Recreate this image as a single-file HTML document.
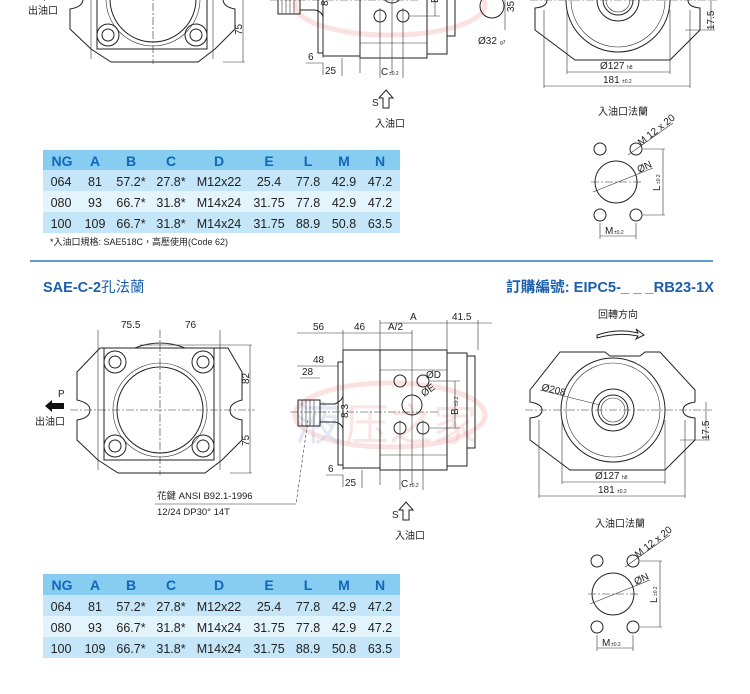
<!DOCTYPE html>
<html><head><meta charset="utf-8">
<style>
html,body{margin:0;padding:0;background:#fff;}
svg{display:block;font-family:"Liberation Sans","Noto Sans CJK TC",sans-serif;}
.l{stroke:#222;stroke-width:1;fill:none}
.t{stroke:#333;stroke-width:.6;fill:none}
.d{stroke:#333;stroke-width:.6;fill:none;stroke-dasharray:8 2 2 2}
.tx{font-size:10px;fill:#222}
.sm{font-size:5px;fill:#222}
.th{font-size:14px;font-weight:bold;fill:#1565b8}
.td{font-size:12.5px;fill:#222}
</style></head><body>
<svg width="750" height="694" viewBox="0 0 750 694" xmlns="http://www.w3.org/2000/svg">
<defs>
<g id="front">
 <path class="l" d="M77 372 L100 348 L135 348 Q160 338 185 348 L228 348 L242 372 L242 400 Q230 403 230 410 Q230 418 242 420 L242 440 L222 460 L205 473 L118 473 L98 460 L77 440 L77 420 Q90 418 90 410 Q90 403 77 400 Z"/>
 <rect class="l" x="104" y="348" width="110" height="112"/>
 <circle class="l" cx="160" cy="410" r="43"/>
 <circle class="t" cx="160" cy="410" r="47"/>
 <circle class="l" cx="115" cy="362" r="11"/><circle class="l" cx="115" cy="362" r="6"/>
 <circle class="l" cx="203" cy="362" r="11"/><circle class="l" cx="203" cy="362" r="6"/>
 <circle class="l" cx="115" cy="446" r="11"/><circle class="l" cx="115" cy="446" r="6"/>
 <circle class="l" cx="203" cy="446" r="11"/><circle class="l" cx="203" cy="446" r="6"/>
 <line class="d" x1="70" y1="410" x2="255" y2="410"/>
 <line class="d" x1="160" y1="330" x2="160" y2="475"/>
 <line class="t" x1="98" y1="330" x2="98" y2="470"/>
 <line class="t" x1="220" y1="330" x2="220" y2="470"/>
 <line class="t" x1="140" y1="345" x2="252" y2="345"/>
 <line class="t" x1="230" y1="473" x2="252" y2="473"/>
 <line class="t" x1="250" y1="345" x2="250" y2="473"/>
 <text class="tx" x="121" y="328">75.5</text><text class="tx" x="185" y="328">76</text>
 <text class="tx" transform="translate(249,384) rotate(-90)">82</text>
 <text class="tx" transform="translate(249,446) rotate(-90)">75</text>
 <path d="M45 406 L52 400 L52 403 L64 403 L64 409 L52 409 L52 412 Z" fill="#111"/>
 <text class="tx" x="58" y="397">P</text>
 <text class="tx" x="35" y="425">出油口</text>
</g>
<g id="side">
 <rect class="l" x="298" y="400" width="22" height="26"/>
 <path class="t" d="M302 400v26M306 400v26M310 400v26M314 400v26"/>
 <path class="l" d="M320 404 L335 404 Q343 400 343 395 L343 430 Q343 424 335 422 L320 422"/>
 <rect class="l" x="338" y="362" width="5" height="103"/>
 <rect class="l" x="343" y="350" width="37" height="118"/>
 <rect class="l" x="380" y="350" width="67" height="120"/>
 <line class="t" x1="380" y1="370" x2="447" y2="370"/><line class="t" x1="380" y1="455" x2="447" y2="455"/>
 <rect class="l" x="447" y="353" width="20" height="113"/>
 <rect class="l" x="467" y="356" width="8" height="92"/>
 <circle class="l" cx="400" cy="381" r="6"/><circle class="l" cx="423" cy="381" r="6"/>
 <circle class="l" cx="400" cy="428" r="6"/><circle class="l" cx="423" cy="428" r="6"/>
 <circle class="l" cx="412" cy="405" r="10"/>
 <line class="d" x1="290" y1="412" x2="440" y2="412"/>
 <line class="t" x1="297" y1="333" x2="412" y2="333"/>
 <line class="t" x1="380" y1="323" x2="492" y2="323"/>
 <path class="t" d="M343 330v140M380 320v165M412 330v155M447 320v30M478 320v30M423 420v70M400 420v70M430 381h30M430 428h30M455 381v47"/>
 <text class="tx" x="313" y="330">56</text><text class="tx" x="354" y="330">46</text><text class="tx" x="388" y="330">A/2</text>
 <text class="tx" x="410" y="320">A</text><text class="tx" x="452" y="320">41.5</text>
 <line class="t" x1="297" y1="366" x2="338" y2="366"/><text class="tx" x="313" y="363">48</text>
 <line class="t" x1="300" y1="378" x2="320" y2="378"/><text class="tx" x="302" y="375">28</text>
 <text class="tx" x="426" y="378">ØD</text>
 <text class="tx" transform="translate(424,397) rotate(-35)">ØE</text>
 <text class="tx" transform="translate(458,415) rotate(-90)">B</text><text class="sm" transform="translate(458,406) rotate(-90)">±0.2</text>
 <text class="tx" transform="translate(348,418) rotate(-90)">8.3</text>
 <path class="t" d="M326 475h17M343 475v12M362 470v18"/>
 <text class="tx" x="328" y="472">6</text><text class="tx" x="345" y="486">25</text>
 <text class="tx" x="401" y="487">C</text><text class="sm" x="409" y="487">±0.2</text>
 <path class="l" d="M403 520 L403 510 L399 510 L406 502 L413 510 L409 510 L409 520 Z"/>
 <text class="tx" x="392" y="518">S</text>
 <text class="tx" x="395" y="539">入油口</text>
</g>
<g id="rear">
 <path class="l" d="M560 352 L605 352 L610 356 L640 356 L645 352 L660 352 L695 390 L695 402 Q683 404 683 410 Q683 417 695 418 L695 440 L665 470 L570 470 L530 440 L530 418 Q542 417 542 410 Q542 404 530 402 L530 390 Z"/>
 <circle class="l" cx="613" cy="410" r="52"/>
 <circle class="t" cx="613" cy="410" r="47"/>
 <circle class="l" cx="613" cy="410" r="21"/>
 <circle class="l" cx="613" cy="410" r="15"/>
 <circle class="t" cx="613" cy="410" r="12"/>
 <line class="d" x1="525" y1="410" x2="712" y2="410"/>
 <line class="t" x1="540" y1="390" x2="600" y2="405"/>
 <text class="tx" transform="translate(541,390) rotate(14)">Ø208</text>
 <path class="t" d="M562 420v64M665 420v64M539 420v78M685 420v78M562 482h103M539 496h146M680 440h30M706 402v38"/>
 <text class="tx" x="595" y="479">Ø127</text><text class="sm" x="622" y="479">h8</text>
 <text class="tx" x="598" y="493">181</text><text class="sm" x="617" y="493">±0.2</text>
 <text class="tx" transform="translate(709,440) rotate(-90)">17.5</text>
</g>
<g id="inlet">
 <text class="tx" x="595" y="527">入油口法蘭</text>
 <circle class="l" cx="597" cy="561" r="6"/><circle class="l" cx="633" cy="561" r="6"/>
 <circle class="l" cx="597" cy="627" r="6"/><circle class="l" cx="633" cy="627" r="6"/>
 <circle class="l" cx="613" cy="594" r="21"/>
 <line class="d" x1="588" y1="594" x2="640" y2="594"/>
 <line class="t" x1="590" y1="604" x2="650" y2="580"/>
 <line class="t" x1="625" y1="567" x2="670" y2="535"/>
 <text class="tx" transform="translate(638,558) rotate(-38)">M 12 x 20</text>
 <text class="tx" transform="translate(636,585) rotate(-25)">ØN</text>
 <path class="t" d="M640 561h22M640 627h22M660 561v66M597 635v16M633 635v16M597 648h36"/>
 <text class="tx" transform="translate(657,603) rotate(-90)">L</text><text class="sm" transform="translate(657,596) rotate(-90)">±0.2</text>
 <text class="tx" x="602" y="646">M</text><text class="sm" x="611" y="646">±0.2</text>
</g>
</defs>

<!-- watermark -->
<ellipse cx="390" cy="415" rx="95" ry="32" fill="none" stroke="#f4b3b3" stroke-width="5" opacity=".4"/>
<text x="295" y="440" font-size="46" fill="#b9c4e4" opacity=".4" font-family="'Noto Sans CJK TC',sans-serif">液</text>
<text x="345" y="440" font-size="44" fill="#f4b3b3" opacity=".35" font-family="'Noto Sans CJK TC',sans-serif">压之家</text>
<ellipse cx="390" cy="5" rx="95" ry="30" fill="none" stroke="#f4b3b3" stroke-width="5" opacity=".4"/>

<!-- top section (cropped) -->
<use href="#front" transform="translate(-7,-411)"/>
<use href="#side" transform="translate(-20,-412)"/>
<use href="#rear" transform="translate(5,-410)"/>
<use href="#inlet" transform="translate(3,-412)"/>
<circle class="l" cx="492" cy="6" r="12"/>
<line class="t" x1="505" y1="-5" x2="505" y2="30"/>
<text class="tx" x="478" y="44">Ø32</text><text class="sm" x="500" y="44">g7</text>
<text class="tx" transform="translate(514,12) rotate(-90)">35</text>

<!-- table 1 -->
<rect x="43" y="150" width="357" height="20" fill="#86cdf1"/>
<rect x="43" y="170" width="357" height="21" fill="#c4e6f8"/>
<rect x="43" y="191" width="357" height="21" fill="#e4f4fc"/>
<rect x="43" y="212" width="357" height="21" fill="#c4e6f8"/>
<g text-anchor="middle">
<text class="th" y="166"><tspan x="62">NG</tspan><tspan x="95">A</tspan><tspan x="131">B</tspan><tspan x="171">C</tspan><tspan x="219">D</tspan><tspan x="269">E</tspan><tspan x="308">L</tspan><tspan x="344">M</tspan><tspan x="380">N</tspan></text>
<text class="td" y="186"><tspan x="61">064</tspan><tspan x="95">81</tspan><tspan x="131">57.2*</tspan><tspan x="171">27.8*</tspan><tspan x="219">M12x22</tspan><tspan x="269">25.4</tspan><tspan x="308">77.8</tspan><tspan x="344">42.9</tspan><tspan x="380">47.2</tspan></text>
<text class="td" y="207"><tspan x="61">080</tspan><tspan x="95">93</tspan><tspan x="131">66.7*</tspan><tspan x="171">31.8*</tspan><tspan x="219">M14x24</tspan><tspan x="269">31.75</tspan><tspan x="308">77.8</tspan><tspan x="344">42.9</tspan><tspan x="380">47.2</tspan></text>
<text class="td" y="228"><tspan x="61">100</tspan><tspan x="95">109</tspan><tspan x="131">66.7*</tspan><tspan x="171">31.8*</tspan><tspan x="219">M14x24</tspan><tspan x="269">31.75</tspan><tspan x="308">88.9</tspan><tspan x="344">50.8</tspan><tspan x="380">63.5</tspan></text>
</g>
<text x="50" y="245" font-size="9" fill="#222">*入油口規格: SAE518C，高壓使用(Code 62)</text>

<line x1="30" y1="261" x2="713" y2="261" stroke="#2a7cc4" stroke-width="1.5"/>
<text x="43" y="292" font-size="14.5" font-weight="bold" fill="#1a5fae">SAE-C-2<tspan font-weight="normal">孔法蘭</tspan></text>
<text x="506" y="292" font-size="14.5" font-weight="bold" fill="#1a5fae" textLength="208" lengthAdjust="spacingAndGlyphs">訂購編號: EIPC5-_ _ _RB23-1X</text>

<!-- bottom section -->
<use href="#front"/>
<use href="#side"/>
<use href="#rear"/>
<use href="#inlet"/>
<text class="tx" x="598" y="318">回轉方向</text>
<path class="l" d="M597 335 Q618 328 638 333 L636 329 L644 335 L636 339 L638 336 Q618 332 597 338 Z"/>
<line class="t" x1="308" y1="420" x2="296" y2="504" stroke-dasharray="3 2"/>
<line class="t" x1="155" y1="504" x2="296" y2="504"/>
<text x="157" y="499" font-size="9.5" fill="#222">花鍵 ANSI B92.1-1996</text>
<text x="157" y="515" font-size="9.5" fill="#222">12/24 DP30° 14T</text>

<!-- table 2 -->
<rect x="43" y="574" width="357" height="21" fill="#86cdf1"/>
<rect x="43" y="595" width="357" height="21" fill="#c4e6f8"/>
<rect x="43" y="616" width="357" height="21" fill="#e4f4fc"/>
<rect x="43" y="637" width="357" height="21" fill="#c4e6f8"/>
<g text-anchor="middle">
<text class="th" y="590"><tspan x="62">NG</tspan><tspan x="95">A</tspan><tspan x="131">B</tspan><tspan x="171">C</tspan><tspan x="219">D</tspan><tspan x="269">E</tspan><tspan x="308">L</tspan><tspan x="344">M</tspan><tspan x="380">N</tspan></text>
<text class="td" y="611"><tspan x="61">064</tspan><tspan x="95">81</tspan><tspan x="131">57.2*</tspan><tspan x="171">27.8*</tspan><tspan x="219">M12x22</tspan><tspan x="269">25.4</tspan><tspan x="308">77.8</tspan><tspan x="344">42.9</tspan><tspan x="380">47.2</tspan></text>
<text class="td" y="632"><tspan x="61">080</tspan><tspan x="95">93</tspan><tspan x="131">66.7*</tspan><tspan x="171">31.8*</tspan><tspan x="219">M14x24</tspan><tspan x="269">31.75</tspan><tspan x="308">77.8</tspan><tspan x="344">42.9</tspan><tspan x="380">47.2</tspan></text>
<text class="td" y="653"><tspan x="61">100</tspan><tspan x="95">109</tspan><tspan x="131">66.7*</tspan><tspan x="171">31.8*</tspan><tspan x="219">M14x24</tspan><tspan x="269">31.75</tspan><tspan x="308">88.9</tspan><tspan x="344">50.8</tspan><tspan x="380">63.5</tspan></text>
</g>
</svg>
</body></html>
